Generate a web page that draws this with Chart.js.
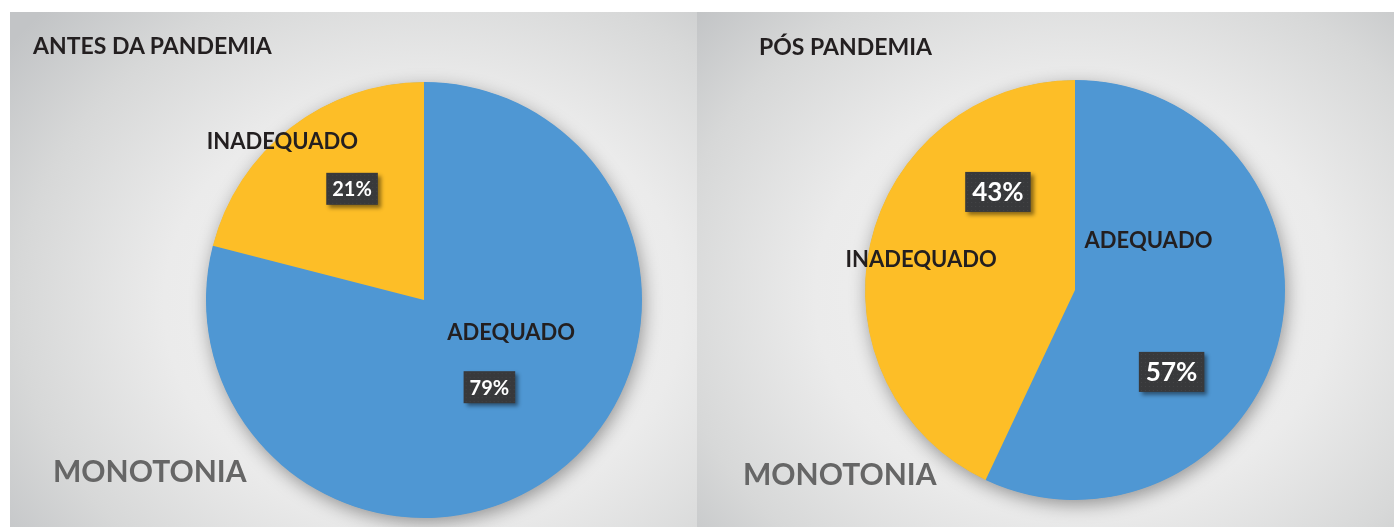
<!DOCTYPE html>
<html lang="pt-BR">
<head>
<meta charset="UTF-8">
<title>Monotonia - antes e pós pandemia</title>
<script src="https://cdn.jsdelivr.net/npm/chart.js@4.4.1/dist/chart.umd.min.js"></script>
<style>
  html, body {
    margin: 0;
    padding: 0;
    background: #ffffff;
    width: 1394px;
    height: 527px;
    overflow: hidden;
    font-family: Lato, "Open Sans", sans-serif;
  }
  .painel {
    position: absolute;
    top: 12px;
    height: 515px;
  }
  #painelAntes {
    left: 10px;
    width: 687px;
    background: radial-gradient(ellipse 520px 430px at 414px 292px, #f3f3f3 0%, #ebebeb 50%, #d7d8d8 78%, #c2c4c6 100%);
  }
  #painelPos {
    left: 697px;
    width: 697px;
    background: radial-gradient(ellipse 520px 430px at 378px 282px, #f3f3f3 0%, #ebebeb 50%, #d7d8d8 78%, #c0c2c4 100%);
  }
  .painel canvas {
    position: absolute;
    left: 0;
    top: 0;
  }
  .titulo {
    position: absolute;
    font-weight: bold;
    font-size: 23px;
    color: #231f20;
    white-space: nowrap;
    z-index: 2;
  }
  .rodape {
    position: absolute;
    font-weight: bold;
    font-size: 30px;
    color: #666666;
    white-space: nowrap;
    z-index: 2;
  }
</style>
</head>
<body>

<div class="painel" id="painelAntes">
  <div class="titulo" style="left:23px; top:19px;">ANTES DA PANDEMIA</div>
  <canvas id="graficoAntes" width="687" height="515"></canvas>
  <div class="rodape" style="left:43px; top:440px;">MONOTONIA</div>
</div>

<div class="painel" id="painelPos">
  <div class="titulo" style="left:62px; top:20px;">PÓS PANDEMIA</div>
  <canvas id="graficoPos" width="697" height="515"></canvas>
  <div class="rodape" style="left:46px; top:443px;">MONOTONIA</div>
</div>

<script>
// =============================
// DADOS
// =============================
const categorias = ["ADEQUADO", "INADEQUADO"];
const valoresAntes = [79, 21];
const valoresPos = [57, 43];
const cores = ["#4f97d3", "#fdbe27"];

// =============================
// SOMBRA DA PIZZA
// =============================
const sombraPizza = {
  id: "sombraPizza",
  beforeDatasetsDraw(chart) {
    const arco = chart.getDatasetMeta(0).data[0];
    if (!arco) return;
    const ctx = chart.ctx;
    ctx.save();
    ctx.shadowColor = "rgba(0,0,0,0.38)";
    ctx.shadowBlur = 18;
    ctx.shadowOffsetX = 2;
    ctx.shadowOffsetY = 5;
    ctx.fillStyle = cores[0];
    ctx.beginPath();
    ctx.arc(arco.x, arco.y, arco.outerRadius - 0.5, 0, Math.PI * 2);
    ctx.fill();
    ctx.restore();
  }
};

// =============================
// RÓTULOS (nome + caixa com %)
// =============================
const rotulos = {
  id: "rotulos",
  afterDatasetsDraw(chart, args, opts) {
    const ctx = chart.ctx;
    const meta = chart.getDatasetMeta(0);
    const valores = chart.data.datasets[0].data;

    meta.data.forEach((arco, i) => {
      const r = arco.outerRadius;
      const pos = opts.posicoes[i];

      // nome da categoria
      const nx = arco.x + pos.nome[0] * r;
      const ny = arco.y + pos.nome[1] * r;
      ctx.save();
      ctx.font = `bold ${opts.fonteNome}px Lato, "Open Sans", sans-serif`;
      ctx.fillStyle = "#231f20";
      ctx.textAlign = "center";
      ctx.textBaseline = "middle";
      ctx.fillText(chart.data.labels[i], nx, ny);
      ctx.restore();

      // caixa escura com a porcentagem
      const px = arco.x + pos.pct[0] * r;
      const py = arco.y + pos.pct[1] * r;
      const texto = valores[i] + "%";
      ctx.save();
      ctx.font = `bold ${opts.fontePct}px Lato, "Open Sans", sans-serif`;
      const larg = ctx.measureText(texto).width + opts.padX * 2;
      const alt = opts.fontePct + opts.padY * 2;
      ctx.shadowColor = "rgba(0,0,0,0.45)";
      ctx.shadowBlur = 4;
      ctx.shadowOffsetX = 3;
      ctx.shadowOffsetY = 3;
      ctx.fillStyle = "#38393b";
      ctx.fillRect(px - larg / 2, py - alt / 2, larg, alt);
      ctx.shadowColor = "transparent";

      // pontinhos da textura
      ctx.fillStyle = "rgba(255,255,255,0.07)";
      for (let yy = py - alt / 2 + 2; yy < py + alt / 2; yy += 4) {
        for (let xx = px - larg / 2 + 2; xx < px + larg / 2; xx += 4) {
          ctx.fillRect(xx, yy, 1, 1);
        }
      }

      ctx.fillStyle = "#ffffff";
      ctx.textAlign = "center";
      ctx.textBaseline = "middle";
      ctx.fillText(texto, px, py + 1);
      ctx.restore();
    });
  }
};

// =============================
// CRIAR GRÁFICO
// =============================
function criarPizza(idCanvas, valores, padding, opcoesRotulos) {
  const ctx = document.getElementById(idCanvas).getContext("2d");

  return new Chart(ctx, {
    type: "pie",
    data: {
      labels: categorias,
      datasets: [{
        data: valores,
        backgroundColor: cores,
        borderWidth: 0
      }]
    },
    options: {
      responsive: false,
      animation: false,
      layout: { padding: padding },
      plugins: {
        legend: { display: false },
        tooltip: { enabled: false },
        rotulos: opcoesRotulos
      }
    },
    plugins: [sombraPizza, rotulos]
  });
}

const graficoAntes = criarPizza("graficoAntes", valoresAntes,
  { left: 141, right: 0, top: 70, bottom: 9 },
  {
    fonteNome: 22,
    fontePct: 20,
    padX: 6,
    padY: 6,
    posicoes: [
      { nome: [0.40, 0.15], pct: [0.30, 0.40] },
      { nome: [-0.65, -0.725], pct: [-0.33, -0.51] }
    ]
  });

const graficoPos = criarPizza("graficoPos", valoresPos,
  { left: 59, right: 0, top: 68, bottom: 27 },
  {
    fonteNome: 22,
    fontePct: 26,
    padX: 7,
    padY: 7,
    posicoes: [
      { nome: [0.35, -0.233], pct: [0.46, 0.39] },
      { nome: [-0.733, -0.143], pct: [-0.367, -0.467] }
    ]
  });
</script>
</body>
</html>
